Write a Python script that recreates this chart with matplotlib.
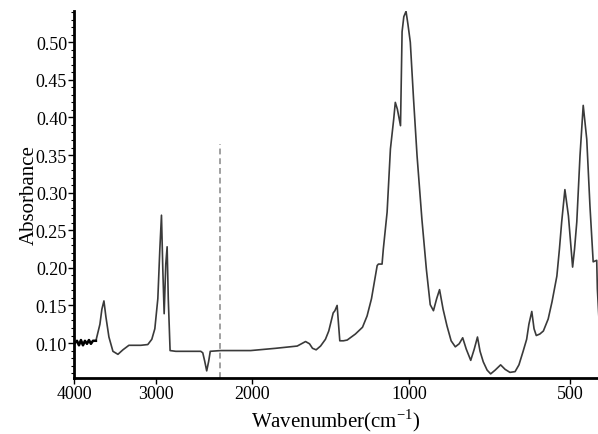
import numpy as np
import matplotlib
matplotlib.use('Agg')
import matplotlib.pyplot as plt
from matplotlib.ticker import MultipleLocator, FixedLocator


# spectrum
wavenumber = [3988, 3963, 3939, 3915, 3890, 3866, 3841, 3817, 3793, 3768, 3732,
	3683, 3659, 3634, 3610, 3573, 3524, 3463, 3402, 3329, 3183, 3098, 3049, 3012,
	2979, 2958, 2941, 2927, 2913, 2896, 2882, 2870, 2851, 2792, 2531, 2510, 2490,
	2469, 2448, 2432, 2323, 2010, 1848, 1711, 1684, 1658, 1633, 1614, 1591, 1563,
	1532, 1511, 1483, 1472, 1458, 1449, 1441, 1418, 1394, 1342, 1297, 1268, 1240,
	1204, 1196, 1173, 1165, 1141, 1120, 1099, 1089, 1076, 1056, 1046, 1035, 1021,
	1009, 997, 987, 976, 961, 947, 935, 925, 915, 906, 895, 883, 870, 857, 845,
	834, 823, 809, 798, 788, 780, 770, 758, 747, 733, 716, 702, 687, 671, 659,
	646, 635, 628, 619, 612, 605, 594, 583, 568, 556, 541, 533, 526, 516, 510,
	505, 498, 492, 486, 479, 469, 459, 448, 438, 428, 417, 415, 410]
absorbance = [0.100, 0.103, 0.097, 0.104, 0.097, 0.103, 0.099, 0.104, 0.099, 0.103, 0.103,
	0.125, 0.145, 0.156, 0.135, 0.108, 0.089, 0.085, 0.091, 0.097, 0.097, 0.098, 0.105, 0.119,
	0.159, 0.225, 0.270, 0.198, 0.139, 0.205, 0.228, 0.159, 0.090, 0.089, 0.089, 0.087, 0.076,
	0.063, 0.076, 0.089, 0.090, 0.090, 0.093, 0.096, 0.099, 0.102, 0.099, 0.093, 0.091, 0.096,
	0.105, 0.116, 0.140, 0.143, 0.150, 0.125, 0.103, 0.103, 0.104, 0.112, 0.121, 0.136, 0.159,
	0.203, 0.205, 0.205, 0.225, 0.274, 0.358, 0.398, 0.420, 0.411, 0.389, 0.514, 0.534, 0.541,
	0.524, 0.500, 0.425, 0.349, 0.265, 0.198, 0.151, 0.143, 0.159, 0.171, 0.145, 0.123, 0.103,
	0.095, 0.099, 0.107, 0.092, 0.077, 0.092, 0.108, 0.089, 0.075, 0.064, 0.059, 0.064, 0.071,
	0.065, 0.061, 0.062, 0.071, 0.089, 0.105, 0.125, 0.142, 0.119, 0.110, 0.112, 0.116, 0.132,
	0.155, 0.189, 0.225, 0.261, 0.304, 0.285, 0.269, 0.232, 0.201, 0.225, 0.261, 0.349, 0.416,
	0.371, 0.282, 0.208, 0.210, 0.172, 0.132]

marker_wn = 2330
marker_top = 0.365

tick_wn = [4000, 3000, 2000, 1000, 500]

# the x axis of the original is not linear, stretch it piece by piece
knot_wn = [300, 500, 1000, 2000, 3000, 4000, 4200]
knot_pos = [-634.4, -570, -409, -251, -155, -73, -56.6]

def fwd(x):
	return np.interp(x, knot_wn, knot_pos)

def inv(p):
	return np.interp(p, knot_pos, knot_wn)


plt.rcParams['font.family'] = ['Liberation Serif', 'DejaVu Serif']

fig = plt.figure(figsize=(5.98, 4.35), dpi=100)
ax = fig.add_axes([0.1237, 0.1287, 0.8763, 0.8437])
ax.set_xscale('function', functions=(fwd, inv))

ax.plot(wavenumber, absorbance, color='#3a3a3a', lw=1.2, solid_joinstyle='round')
ax.plot(wavenumber[:11], absorbance[:11], color='black', lw=1.8)
ax.vlines(marker_wn, 0.0535, marker_top, colors='#a0a0a0', linestyles=(0, (3, 2)), lw=1.4)

ax.set_xlim(4000, 413)
ax.set_ylim(0.0535, 0.5415)

ax.xaxis.set_major_locator(FixedLocator(tick_wn))
ax.xaxis.set_minor_locator(FixedLocator([]))
ax.set_xticklabels([str(t) for t in tick_wn])
ax.yaxis.set_major_locator(MultipleLocator(0.05))
ax.yaxis.set_minor_locator(MultipleLocator(0.01))
ax.yaxis.set_major_formatter(plt.FormatStrFormatter('%.2f'))

for s in ['top', 'right']:
	ax.spines[s].set_visible(False)
for s in ['left', 'bottom']:
	ax.spines[s].set_linewidth(2)

ax.tick_params(axis='both', which='major', direction='out', length=4, width=1, labelsize=13, pad=1)
ax.tick_params(axis='y', which='minor', direction='out', length=2.5, width=0.8)

ax.set_xlabel('Wavenumber(cm$^{\\mathregular{-1}}$)', fontsize=15, labelpad=3)
ax.set_ylabel('Absorbance', fontsize=15, labelpad=-2)

plt.savefig('out.png', dpi=100)
